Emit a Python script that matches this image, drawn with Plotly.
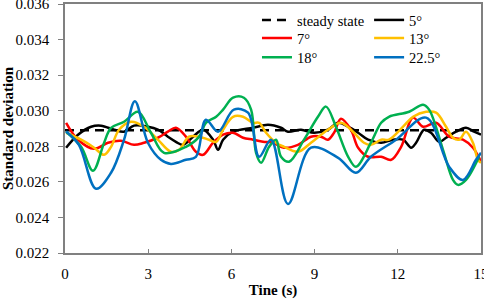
import plotly.graph_objects as go

steady_t = [0, 15]
steady_v = [0.0289, 0.0289]

t_5 = [0.04, 0.47, 0.94, 1.30, 1.77, 2.13, 2.49, 2.99, 3.35, 3.71, 4.0, 4.26, 4.62, 4.98, 5.34, 5.52, 5.70, 6.06, 6.78, 7.32, 7.79, 8.04, 8.51, 8.98, 9.48, 9.85, 10.21, 10.57, 10.93, 11.40, 11.83, 12.19, 12.48, 12.66, 12.95, 13.20, 13.49, 13.74, 14.10, 14.46, 14.75, 15.0]
v_5 = [0.02792, 0.02865, 0.0291, 0.02916, 0.02893, 0.02882, 0.02916, 0.0291, 0.02893, 0.02854, 0.02825, 0.02808, 0.02854, 0.02893, 0.02837, 0.0278, 0.02837, 0.02882, 0.02904, 0.02921, 0.02904, 0.02882, 0.02893, 0.02876, 0.02893, 0.02932, 0.0291, 0.02876, 0.02837, 0.0282, 0.02837, 0.02837, 0.02792, 0.0282, 0.02893, 0.02876, 0.02825, 0.02848, 0.02882, 0.02904, 0.02882, 0.02865]

t_7 = [0.04, 0.47, 1.05, 1.55, 2.02, 2.49, 2.85, 3.35, 3.71, 4.0, 4.36, 4.72, 4.98, 5.34, 5.70, 6.06, 6.42, 6.78, 7.14, 7.50, 7.90, 8.40, 8.87, 9.23, 9.48, 9.70, 9.95, 10.31, 10.57, 10.93, 11.40, 11.76, 12.12, 12.55, 12.91, 13.38, 13.85, 14.35, 14.71, 15.0]
v_7 = [0.02932, 0.02837, 0.02786, 0.0282, 0.02831, 0.02808, 0.0282, 0.02848, 0.02882, 0.02904, 0.02854, 0.02769, 0.02752, 0.0282, 0.02865, 0.02876, 0.02848, 0.02837, 0.02825, 0.0282, 0.02792, 0.02808, 0.02854, 0.02854, 0.02837, 0.02876, 0.02955, 0.02893, 0.02792, 0.02741, 0.02741, 0.02724, 0.02797, 0.02961, 0.0291, 0.02932, 0.02854, 0.02837, 0.02792, 0.02713]

t_13 = [0.04, 0.58, 1.05, 1.41, 1.66, 1.95, 2.38, 2.85, 3.35, 3.82, 4.11, 4.47, 4.83, 5.19, 5.45, 5.70, 6.06, 6.42, 6.78, 7.0, 7.25, 7.61, 7.90, 8.40, 8.87, 9.48, 9.95, 10.31, 10.78, 11.03, 11.40, 11.68, 12.19, 12.55, 13.02, 13.38, 13.74, 13.99, 14.21, 14.46, 14.71, 14.89, 15.0]
v_13 = [0.02876, 0.02837, 0.02792, 0.02752, 0.02797, 0.02893, 0.02938, 0.0291, 0.02837, 0.02769, 0.0278, 0.02854, 0.02854, 0.02837, 0.02825, 0.02893, 0.02966, 0.02966, 0.02932, 0.02932, 0.02876, 0.0282, 0.02797, 0.02769, 0.0282, 0.02893, 0.02932, 0.02893, 0.0282, 0.02808, 0.02837, 0.02837, 0.0291, 0.02966, 0.02994, 0.02989, 0.0291, 0.02848, 0.02837, 0.02882, 0.0282, 0.02724, 0.02707]

t_18 = [0.04, 0.58, 1.01, 1.41, 1.66, 2.13, 2.63, 3.10, 3.57, 4.36, 4.83, 5.08, 5.45, 5.70, 6.06, 6.45, 6.71, 6.89, 7.07, 7.36, 7.61, 7.79, 8.08, 8.62, 9.12, 9.41, 9.77, 10.21, 10.49, 11.03, 11.40, 11.68, 12.41, 12.91, 13.13, 13.63, 13.99, 14.17, 14.46, 14.93]
v_18 = [0.02882, 0.02797, 0.02662, 0.0282, 0.02904, 0.02938, 0.02994, 0.02876, 0.02763, 0.02797, 0.02853, 0.02932, 0.02966, 0.03006, 0.03073, 0.03073, 0.03006, 0.02763, 0.02707, 0.02797, 0.02837, 0.02741, 0.02713, 0.02837, 0.02966, 0.03023, 0.0291, 0.02741, 0.02685, 0.0282, 0.02932, 0.02966, 0.02994, 0.03034, 0.03006, 0.0278, 0.02611, 0.02583, 0.02611, 0.02741]

t_22 = [0.04, 0.50, 1.12, 1.66, 2.13, 2.52, 2.99, 3.46, 3.82, 4.36, 4.72, 5.08, 5.52, 6.09, 6.60, 7.0, 7.43, 8.04, 8.87, 9.85, 10.49, 11.03, 11.94, 13.02, 13.85, 14.35, 14.82, 15.0]
v_22 = [0.02883, 0.02808, 0.02561, 0.02651, 0.02837, 0.03053, 0.0282, 0.02724, 0.02701, 0.02724, 0.0274, 0.02949, 0.02882, 0.03006, 0.02989, 0.02741, 0.02837, 0.02476, 0.02792, 0.02735, 0.02651, 0.02741, 0.02837, 0.02961, 0.02685, 0.02611, 0.02724, 0.02763]

FONT = "Liberation Serif"

fig = go.Figure()
fig.add_trace(go.Scatter(x=steady_t, y=steady_v, mode="lines", name="steady state", showlegend=True,
                         line=dict(color="black", width=2.5, dash="9px,6px"), legend="legend"))
fig.add_trace(go.Scatter(x=t_5, y=v_5, mode="lines", name="5°", line_shape="spline", showlegend=True,
                         line=dict(color="black", width=2.5, smoothing=1.0), legend="legend2"))
fig.add_trace(go.Scatter(x=t_7, y=v_7, mode="lines", name="7°", line_shape="spline", showlegend=True,
                         line=dict(color="#FF0000", width=2.5, smoothing=1.0), legend="legend3"))
fig.add_trace(go.Scatter(x=t_13, y=v_13, mode="lines", name="13°", line_shape="spline", showlegend=True,
                         line=dict(color="#FFC000", width=2.5, smoothing=1.0), legend="legend4"))
fig.add_trace(go.Scatter(x=t_18, y=v_18, mode="lines", name="18°", line_shape="spline", showlegend=True,
                         line=dict(color="#00B050", width=2.5, smoothing=1.0), legend="legend5"))
fig.add_trace(go.Scatter(x=t_22, y=v_22, mode="lines", name="22.5°", line_shape="spline", showlegend=True,
                         line=dict(color="#0070C0", width=2.5, smoothing=1.0), legend="legend6"))

legend_common = dict(font=dict(family=FONT, size=14.5, color="black"), bgcolor="rgba(0,0,0,0)",
                     tracegroupgap=0, itemwidth=30, yanchor="top", xanchor="left", visible=True)
col1, col2 = 0.4615, 0.731
row1, row2, row3 = 1.0, 0.927, 0.85

fig.update_layout(
    width=484, height=299,
    showlegend=True,
    margin=dict(l=65, r=3, t=4, b=46, autoexpand=False),
    paper_bgcolor="white", plot_bgcolor="white",
    font=dict(family=FONT, size=15, color="black"),
    legend=dict(x=col1, y=row1, **legend_common),
    legend2=dict(x=col2, y=row1, **legend_common),
    legend3=dict(x=col1, y=row2, **legend_common),
    legend4=dict(x=col2, y=row2, **legend_common),
    legend5=dict(x=col1, y=row3, **legend_common),
    legend6=dict(x=col2, y=row3, **legend_common),
    xaxis=dict(range=[0, 15], tickvals=[0, 3, 6, 9, 12, 15], ticks="inside", ticklen=4,
               tickcolor="#808080", showline=True, linecolor="#808080", linewidth=1.5, mirror=True,
               showgrid=False, zeroline=False, ticklabelstandoff=6, ticklabeloverflow="allow",
               title=dict(text="<b>Tine (s)</b>", font=dict(family=FONT, size=15), standoff=4)),
    yaxis=dict(range=[0.022, 0.036], dtick=0.002, tickformat=".3f", ticks="outside", ticklen=5,
               tickcolor="#808080", showline=True, linecolor="#808080", linewidth=1.5, mirror=True,
               showgrid=False, zeroline=False, ticklabelstandoff=6, ticklabeloverflow="allow",
               title=dict(text="<b>Standard deviation</b>", font=dict(family=FONT, size=15), standoff=4)),
)

fig.write_html("out.html", config={"displayModeBar": False},
               post_script="document.body.style.margin='0';document.body.style.overflow='hidden';")
